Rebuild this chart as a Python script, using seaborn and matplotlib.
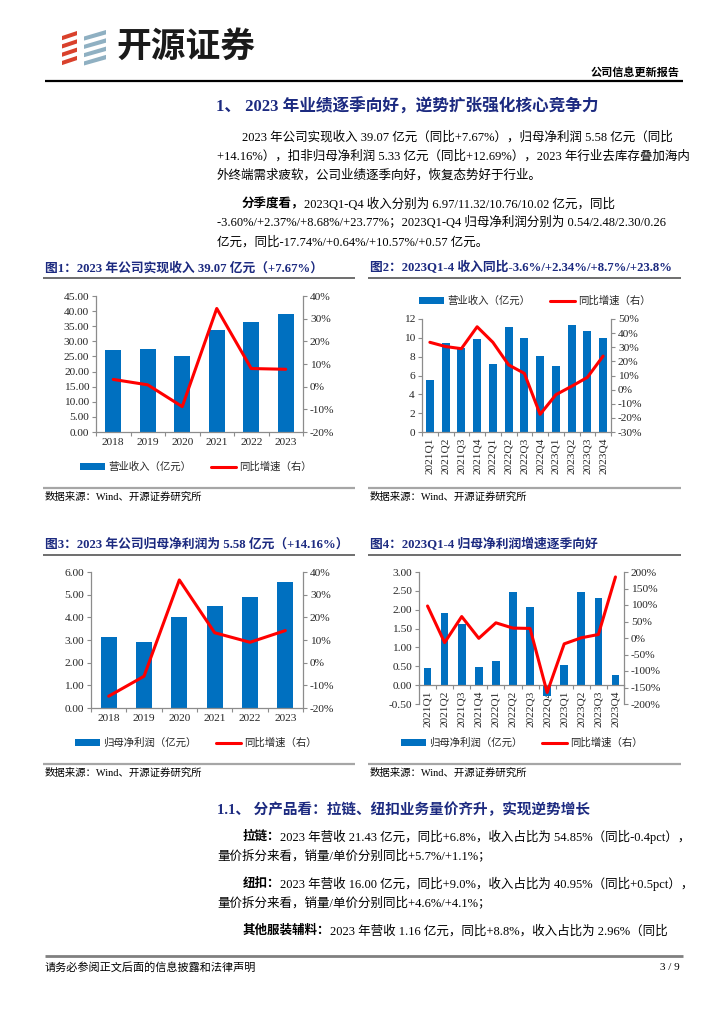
import matplotlib
matplotlib.use("Agg")
import matplotlib.pyplot as plt
import seaborn as sns
import numpy as np
from matplotlib.patches import Patch, Polygon
from matplotlib.lines import Line2D
from matplotlib.ticker import FuncFormatter, FixedLocator

# ---- data ----
years = ["2018", "2019", "2020", "2021", "2022", "2023"]
quarters = ["2021Q1", "2021Q2", "2021Q3", "2021Q4", "2022Q1", "2022Q2",
            "2022Q3", "2022Q4", "2023Q1", "2023Q2", "2023Q3", "2023Q4"]

revenue_y = [27.2, 27.4, 25.0, 33.7, 36.29, 39.07]
revenue_y_yoy = [3.2, 0.8, -8.8, 34.5, 8.0, 7.67]

revenue_q = [5.5, 9.45, 8.9, 9.9, 7.25, 11.1, 9.95, 8.1, 6.97, 11.32, 10.76, 10.02]
revenue_q_yoy = [33.5, 30.5, 29.0, 44.5, 33.5, 17.5, 11.5, -17.5, -3.6, 2.37, 8.68, 23.77]

profit_y = [3.12, 2.93, 4.0, 4.5, 4.9, 5.58]
profit_y_yoy = [-14.8, -6.0, 36.5, 13.2, 9.0, 14.16]

profit_q = [0.45, 1.91, 1.61, 0.49, 0.64, 2.46, 2.08, -0.28, 0.54, 2.48, 2.30, 0.26]
profit_q_yoy = [97, -14, 65, -1, 46, 30, 29, -165, -17.74, 0.64, 10.57, 185]

BLUE = "#0070c0"
RED = "#ff0000"
NAVY = "#1c2a80"
GREY = "#8c8c8c"
BODY = 9.0

sns.set_theme(style="white")
plt.rcParams["font.family"] = ["Liberation Serif", "Noto Sans CJK SC"]
plt.rcParams["axes.unicode_minus"] = False

W, H = 724, 1024
fig = plt.figure(figsize=(W / 100, H / 100), dpi=100)
fig.patch.set_facecolor("white")

# page layer in pixel units
page = fig.add_axes([0, 0, 1, 1])
page.set_xlim(0, W)
page.set_ylim(H, 0)
page.axis("off")


def px(l, t, r, b):
    return [l / W, 1 - b / H, (r - l) / W, (b - t) / H]


def put(x, y, s, size=BODY, weight="normal", color="black", ha="left", family=None):
    kw = {}
    if family:
        kw["family"] = family
    return page.text(x, y, s, fontsize=size, fontweight=weight, color=color,
                     ha=ha, va="center", **kw)


def put_mixed(x, y, head, rest, size=BODY):
    t = put(x, y, head, size=size, weight="bold")
    r = fig.canvas.get_renderer()
    w = t.get_window_extent(r).width
    put(x + w, y, rest, size=size)


def hline(x0, x1, y, color, lw):
    page.plot([x0, x1], [y, y], color=color, lw=lw, solid_capstyle="butt")


# ---- header ----
for i in range(4):
    y0 = 31 + i * 8.3
    page.add_patch(Polygon([(62, y0 + 5), (77, y0), (77, y0 + 4.2), (62, y0 + 9.2)],
                           closed=True, color="#d9412c", lw=0))
    page.add_patch(Polygon([(84, y0 + 5.5), (106, y0 - 1), (106, y0 + 3.4), (84, y0 + 9.6)],
                           closed=True, color="#8fb0c2", lw=0))
put(116, 46, "开源证券", size=25, weight="bold", color="#1a1a1a",
    family=["Noto Sans CJK SC"])
put(680, 73, "公司信息更新报告", size=8, weight="bold", ha="right")
hline(45, 683, 81, "black", 1.6)

# ---- section 1 text ----
put(216, 107, "1、 2023 年业绩逐季向好，逆势扩张强化核心竞争力", size=12, weight="bold", color=NAVY)
put(242, 137, "2023 年公司实现收入 39.07 亿元（同比+7.67%），归母净利润 5.58 亿元（同比")
put(217, 156, "+14.16%），扣非归母净利润 5.33 亿元（同比+12.69%），2023 年行业去库存叠加海内")
put(217, 175, "外终端需求疲软，公司业绩逐季向好，恢复态势好于行业。")
put_mixed(242, 204, "分季度看，", "2023Q1-Q4 收入分别为 6.97/11.32/10.76/10.02 亿元，同比")
put(217, 223, "-3.60%/+2.37%/+8.68%/+23.77%；2023Q1-Q4 归母净利润分别为 0.54/2.48/2.30/0.26")
put(217, 242, "亿元，同比-17.74%/+0.64%/+10.57%/+0.57 亿元。")

# ---- chart frames ----
titles = [
    (45, 268, "图1：2023 年公司实现收入 39.07 亿元（+7.67%）"),
    (370, 268, "图2：2023Q1-4 收入同比-3.6%/+2.34%/+8.7%/+23.8%"),
    (45, 545, "图3：2023 年公司归母净利润为 5.58 亿元（+14.16%）"),
    (370, 545, "图4：2023Q1-4 归母净利润增速逐季向好"),
]
for x, y, s in titles:
    put(x, y, s, size=9.2, weight="bold", color=NAVY)
for y in (278, 555):
    hline(43, 355, y, "#555555", 1.2)
    hline(368, 681, y, "#555555", 1.2)
for y in (488, 764):
    hline(43, 355, y, "#a6a6a6", 1.6)
    hline(368, 681, y, "#a6a6a6", 1.6)
    put(45, y + 9, "数据来源：Wind、开源证券研究所", size=7.5)
    put(370, y + 9, "数据来源：Wind、开源证券研究所", size=7.5)


def draw_chart(rect, cats, bars, yoy, bar_label, ylim_l, step_l, fmt_l, ylim_r, step_r,
               legend_c, rotate=False, zero_spine=False, width=0.45):
    n = len(cats)
    ax = fig.add_axes(px(*rect))
    sns.barplot(x=cats, y=bars, ax=ax, color=BLUE, saturation=1, width=width, linewidth=0)
    ax2 = ax.twinx()
    sns.lineplot(x=np.arange(n), y=yoy, ax=ax2, color=RED, linewidth=2.2)
    ax.set_xlim(-0.5, n - 0.5)
    ax.set_ylim(*ylim_l)
    ax.set_yticks(np.arange(ylim_l[0], ylim_l[1] + step_l / 2, step_l))
    ax.yaxis.set_major_formatter(FuncFormatter(lambda v, p: fmt_l % v))
    ax2.set_ylim(*ylim_r)
    ax2.set_yticks(np.arange(ylim_r[0], ylim_r[1] + step_r / 2, step_r))
    ax2.yaxis.set_major_formatter(FuncFormatter(lambda v, p: f"{v:.0f}%"))
    for a in (ax, ax2):
        a.set_xlabel("")
        a.set_ylabel("")
        a.patch.set_alpha(0)
        a.spines["top"].set_visible(False)
    ax.spines["right"].set_visible(False)
    ax2.spines["left"].set_visible(False)
    ax2.spines["bottom"].set_visible(False)
    for sp in ("left", "bottom"):
        ax.spines[sp].set_color(GREY)
        ax.spines[sp].set_linewidth(0.9)
    ax2.spines["right"].set_color(GREY)
    ax2.spines["right"].set_linewidth(0.9)
    if zero_spine:
        ax.spines["bottom"].set_position(("data", 0))
    ax.tick_params(axis="y", which="major", direction="out", length=3, width=0.8,
                   color=GREY, labelsize=8.2, pad=2, left=True)
    ax2.tick_params(axis="y", which="major", direction="out", length=3, width=0.8,
                    color=GREY, labelsize=8.2, pad=2, right=True)
    ax.tick_params(axis="x", which="major", length=0, labelsize=8.2, pad=4,
                   labelrotation=90 if rotate else 0)
    ax.xaxis.set_minor_locator(FixedLocator(np.arange(-0.5, n, 1.0)))
    ax.tick_params(axis="x", which="minor", direction="out", length=3, width=0.8,
                   color=GREY, bottom=True)
    handles = [Patch(facecolor=BLUE, edgecolor="none"), Line2D([0], [0], color=RED, lw=2.2)]
    ax.legend(handles, [bar_label, "同比增速（右）"], loc="center",
              bbox_to_anchor=(legend_c[0] / W, 1 - legend_c[1] / H),
              bbox_transform=fig.transFigure, ncol=2, frameon=False, fontsize=7.5,
              handlelength=2.4, handleheight=0.6, handletextpad=0.3, columnspacing=1.9)
    return ax, ax2


draw_chart((96, 296, 303, 432), years, revenue_y, revenue_y_yoy, "营业收入（亿元）",
           (0, 45), 5, "%.2f", (-20, 40), 10, (196, 467))
draw_chart((422, 319, 611, 432), quarters, revenue_q, revenue_q_yoy, "营业收入（亿元）",
           (0, 12), 2, "%d", (-30, 50), 10, (535, 301), rotate=True, width=0.5)
draw_chart((91, 572, 303, 708), years, profit_y, profit_y_yoy, "归母净利润（亿元）",
           (0, 6), 1, "%.2f", (-20, 40), 10, (196, 743))
draw_chart((419, 572, 624, 704), quarters, profit_q, profit_q_yoy, "归母净利润（亿元）",
           (-0.5, 3.0), 0.5, "%.2f", (-200, 200), 50, (522, 743), rotate=True,
           zero_spine=True, width=0.45)

# ---- section 1.1 text ----
put(217, 810, "1.1、 分产品看：拉链、纽扣业务量价齐升，实现逆势增长", size=10.5, weight="bold", color=NAVY)
put_mixed(243, 837, "拉链：", "2023 年营收 21.43 亿元，同比+6.8%，收入占比为 54.85%（同比-0.4pct），")
put(217, 856, "量价拆分来看，销量/单价分别同比+5.7%/+1.1%；")
put_mixed(243, 884, "纽扣：", "2023 年营收 16.00 亿元，同比+9.0%，收入占比为 40.95%（同比+0.5pct），")
put(217, 903, "量价拆分来看，销量/单价分别同比+4.6%/+4.1%；")
put_mixed(243, 931, "其他服装辅料：", "2023 年营收 1.16 亿元，同比+8.8%，收入占比为 2.96%（同比")

# ---- footer ----
hline(45, 683, 956, "#808080", 2.0)
put(45, 967, "请务必参阅正文后面的信息披露和法律声明", size=8)
put(680, 967, "3 / 9", size=8, ha="right")

fig.savefig("out.png", dpi=100, facecolor="white")
